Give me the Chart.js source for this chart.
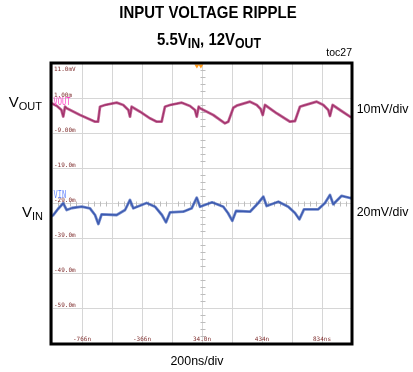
<!DOCTYPE html>
<html>
<head>
<meta charset="utf-8">
<script src="https://cdn.jsdelivr.net/npm/chart.js@4/dist/chart.umd.min.js"></script>
<style>
  html, body { margin: 0; padding: 0; background: #fff; }
  #wrap { position: relative; width: 413px; height: 372px; overflow: hidden;
          font-family: 'Liberation Sans', Arial, sans-serif; color: #000; }
  #wrap canvas { position: absolute; left: 0; top: 0; }
  .t { position: absolute; white-space: nowrap; line-height: 1; }
  .title { font-weight: bold; font-size: 17px; transform-origin: 50% 50%; }
  .sub { position: relative; }
</style>
</head>
<body>
<div id="wrap">
  <canvas id="scope" width="413" height="372"></canvas>
  <div class="t title" style="left:208.3px; top:3.9px; transform:translateX(-50%) scaleX(0.88);">INPUT VOLTAGE RIPPLE</div>
  <div class="t title" style="left:208.8px; top:30.6px; transform:translateX(-50%) scaleX(0.88);">5.5V<span class="sub" style="font-size:14px; top:3.4px;">IN</span>, 12V<span class="sub" style="font-size:14px; top:3.4px;">OUT</span></div>
  <div class="t" style="right:61px; top:47.1px; font-size:10.5px;">toc27</div>
  <div class="t" style="right:371px; top:94px; font-size:15px;">V<span class="sub" style="font-size:11px; top:2.6px;">OUT</span></div>
  <div class="t" style="right:370px; top:204px; font-size:15px;">V<span class="sub" style="font-size:11px; top:3.3px;">IN</span></div>
  <div class="t" style="left:356.7px; top:102.5px; font-size:12.4px;">10mV/div</div>
  <div class="t" style="left:356.7px; top:206.2px; font-size:12.4px;">20mV/div</div>
  <div class="t" style="left:197px; top:354.5px; font-size:12.4px; transform:translateX(-50%);">200ns/div</div>
</div>
<script>
// Horizontal axis: time in ns, 200 ns per division
const timeTicks  = [-966, -766, -566, -366, -166, 34, 234, 434, 634, 834, 1034];
const timeLabels = ['', '-766n', '', '-366n', '', '34.0n', '', '434n', '', '834ns', ''];

// Vertical axis: screen level in mV, 10 mV per division
const levelTicks  = [11, 1, -9, -19, -29, -39, -49, -59, -69];
const levelLabels = ['11.0mV', '1.00m', '-9.00m', '-19.0m', '-29.0m', '-39.0m', '-49.0m', '-59.0m', ''];

// Output voltage ripple trace
const voutTime  = [-966, -933, -903, -891, -879, -868, -779, -679, -659, -646, -613, -535, -491, -457, -446, -435,
                   -379, -313, -268, -235, -213, -179, -101, -46, -13, -1, 12, 21, 109, 187, 209, 243, 265, 354,
                   399, 425, 439, 454, 532, 621, 654, 687, 709, 799, 843, 876, 887, 905, 954, 1021, 1034];
const voutLevel = [-0.57, -1.29, -2.43, -4.29, -1.49, -1.94, -3.86, -5.77, -5.77, -1.49, -1.0, -0.34, -1.0, -2.43, -4.34, -1.49,
                   -2.91, -4.8, -5.77, -5.77, -1.49, -1.0, -0.34, -1.29, -2.43, -4.34, -1.49, -1.94, -3.86, -6.23, -5.77, -1.77, -1.2, -0.06,
                   -1.0, -2.14, -3.86, -1.0, -3.37, -5.77, -5.57, -1.49, -1.2, -0.06, -1.0, -2.43, -4.14, -1.0, -2.43, -4.34, -4.57];

// Input voltage ripple trace
const vinTime  = [-966, -957, -926, -891, -868, -833, -768, -713, -679, -657, -635, -535, -479, -446, -424, -335,
                  -279, -233, -206, -179, -91, -35, -1, 21, 101, 176, 207, 236, 261, 354, 409, 443, 465, 543,
                  609, 654, 683, 714, 809, 854, 887, 909, 965, 1021, 1034];
const vinLevel = [-32.71, -32.43, -30.71, -29.09, -31.0, -30.43, -30.06, -30.51, -32.43, -35.0, -32.23, -32.43, -31.0, -28.14, -30.51, -29.0,
                  -30.06, -32.43, -34.51, -31.66, -31.49, -30.51, -27.49, -30.06, -28.8, -30.06, -31.86, -34.06, -31.29, -31.49, -29.0, -27.2, -29.86, -28.63,
                  -30.06, -31.86, -33.66, -30.8, -30.8, -29.0, -26.71, -29.37, -26.94, -27.57, -27.57];

const toPoints = (xs, ys) => xs.map((x, i) => ({ x, y: ys[i] }));
const voutPts = toPoints(voutTime, voutLevel);
const vinPts = toPoints(vinTime, vinLevel);

// Scope screen decorations: graticule labels, center-axis minor ticks, channel tags, frame
const scopeDecor = {
  id: 'scopeDecor',
  beforeDatasetsDraw(chart) {
    const { ctx, chartArea: a, scales: { x, y } } = chart;
    ctx.save();
    // minor ticks along the center graticule lines
    ctx.strokeStyle = '#bdbdbd';
    ctx.lineWidth = 1;
    const cx = Math.round(x.getPixelForValue(timeTicks[5])) + 0.5;
    const cy = Math.round(y.getPixelForValue(levelTicks[4])) + 0.5;
    ctx.beginPath();
    for (let i = 0; i < levelTicks.length - 1; i++) {
      const y0 = y.getPixelForValue(levelTicks[i]);
      const y1 = y.getPixelForValue(levelTicks[i + 1]);
      for (let k = 1; k < 5; k++) {
        const py = Math.round(y0 + (y1 - y0) * k / 5) + 0.5;
        ctx.moveTo(cx - 2, py); ctx.lineTo(cx + 3, py);
      }
    }
    for (let i = 0; i < timeTicks.length - 1; i++) {
      const x0 = x.getPixelForValue(timeTicks[i]);
      const x1 = x.getPixelForValue(timeTicks[i + 1]);
      for (let k = 1; k < 5; k++) {
        const px = Math.round(x0 + (x1 - x0) * k / 5) + 0.5;
        ctx.moveTo(px, cy - 2); ctx.lineTo(px, cy + 3);
      }
    }
    ctx.stroke();

    // graticule value labels
    ctx.fillStyle = '#7e2c2c';
    ctx.font = '6px "DejaVu Sans Mono", monospace';
    ctx.textAlign = 'left';
    levelTicks.forEach((v, i) => {
      if (!levelLabels[i]) return;
      const py = y.getPixelForValue(v);
      if (i === 0) {
        ctx.textBaseline = 'top';
        ctx.fillText(levelLabels[i], a.left + 2, py + 3);
      } else {
        ctx.textBaseline = 'alphabetic';
        ctx.fillText(levelLabels[i], a.left + 2, py - 1.5);
      }
    });
    ctx.textAlign = 'center';
    ctx.textBaseline = 'alphabetic';
    timeTicks.forEach((t, i) => {
      if (!timeLabels[i]) return;
      ctx.fillText(timeLabels[i], x.getPixelForValue(t), a.bottom - 2);
    });

    // trigger position marker
    const tx = x.getPixelForValue(0);
    ctx.fillStyle = '#ff9a1a';
    [tx, tx + 4].forEach(px => {
      ctx.beginPath();
      ctx.moveTo(px - 2.5, a.top + 1.5);
      ctx.lineTo(px + 2.5, a.top + 1.5);
      ctx.lineTo(px, a.top + 5.5);
      ctx.closePath();
      ctx.fill();
    });
    ctx.restore();
  },
  afterDatasetsDraw(chart) {
    const { ctx, chartArea: a, scales: { y } } = chart;
    ctx.save();
    ctx.font = '10px "DejaVu Sans Mono", monospace';
    ctx.textAlign = 'left';
    ctx.textBaseline = 'alphabetic';
    const tag = (text, level, color) => {
      ctx.save();
      ctx.translate(a.left + 1.5, y.getPixelForValue(level));
      ctx.scale(0.7, 1);
      ctx.fillStyle = color;
      ctx.fillText(text, 0, 0);
      ctx.restore();
    };
    tag('VOUT', -1.0, '#ff45c8');
    tag('VIN', -27.7, '#6d8cff');

    // instrument frame
    ctx.strokeStyle = '#000';
    ctx.lineWidth = 3;
    ctx.strokeRect(a.left - 1, a.top, a.right - a.left + 1, a.bottom - a.top + 1);
    ctx.restore();
  }
};

const gridStyle = { color: '#d6d6d6', lineWidth: 1, drawTicks: false };

new Chart(document.getElementById('scope'), {
  type: 'line',
  data: {
    datasets: [
      { data: voutPts, borderColor: 'rgba(176, 60, 120, 0.75)', borderWidth: 2.8 },
      { data: voutPts, borderColor: '#7a1448', borderWidth: 1.3 },
      { data: vinPts, borderColor: 'rgba(70, 100, 185, 0.75)', borderWidth: 2.8 },
      { data: vinPts, borderColor: '#1c3a92', borderWidth: 1.3 }
    ]
  },
  options: {
    responsive: false,
    animation: false,
    devicePixelRatio: 1,
    layout: { padding: { left: 52, top: 63, right: 61, bottom: 29 } },
    plugins: { legend: { display: false }, tooltip: { enabled: false } },
    elements: {
      point: { radius: 0 },
      line: { tension: 0, borderJoinStyle: 'round', borderCapStyle: 'round' }
    },
    scales: {
      x: {
        type: 'linear',
        min: timeTicks[0],
        max: timeTicks[timeTicks.length - 1],
        afterBuildTicks: s => { s.ticks = timeTicks.map(v => ({ value: v })); },
        afterFit: s => { s.height = 0; },
        ticks: { display: false },
        grid: gridStyle,
        border: { display: false }
      },
      y: {
        type: 'linear',
        min: levelTicks[levelTicks.length - 1],
        max: levelTicks[0],
        afterBuildTicks: s => { s.ticks = levelTicks.map(v => ({ value: v })); },
        afterFit: s => { s.width = 0; },
        ticks: { display: false },
        grid: gridStyle,
        border: { display: false }
      }
    }
  },
  plugins: [scopeDecor]
});
</script>
</body>
</html>
